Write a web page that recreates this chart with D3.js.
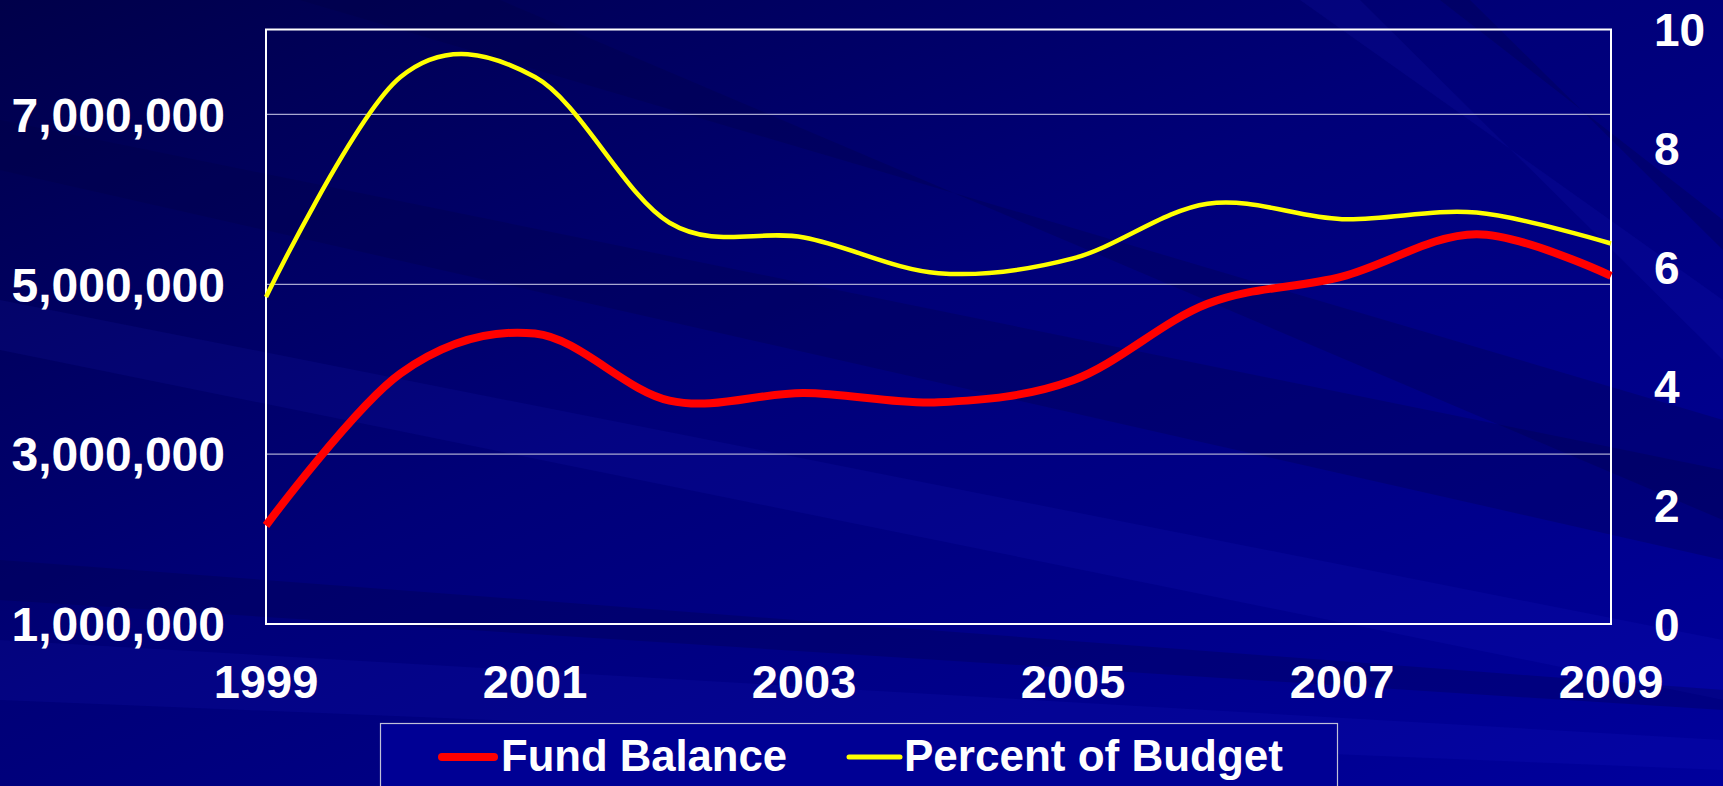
<!DOCTYPE html>
<html lang="en">
<head>
  <meta charset="UTF-8">
  <title>Fund Balance</title>
  <script src="https://d3js.org/d3.v7.min.js"></script>
  <style>
    html, body { margin: 0; padding: 0; background: #000080; overflow: hidden; }
    text { font-family: "Liberation Sans", Arial, sans-serif; font-weight: bold; fill: #fff; }
  </style>
</head>
<body>
  <svg id="svg" width="1723" height="786"></svg>
  <script>
    // data
    const years = [1999, 2000, 2001, 2002, 2003, 2004, 2005, 2006, 2007, 2008, 2009];
    const fundBalance = [2160000, 3950000, 4420000, 3630000, 3720000, 3610000, 3870000, 4770000, 5090000, 5590000, 5100000];
    const percentOfBudget = [5.5, 9.2, 9.2, 6.75, 6.5, 5.9, 6.15, 7.07, 6.81, 6.92, 6.4];
    const leftTicks = [1000000, 3000000, 5000000, 7000000];
    const rightTicks = [0, 2, 4, 6, 8, 10];
    const yearTicks = [1999, 2001, 2003, 2005, 2007, 2009];
    const seriesNames = ["Fund Balance", "Percent of Budget"];

    function drawChart() {
      const W = 1723, H = 786;
      const plotLeft = 266, plotRight = 1611, plotTop = 29.5, plotBottom = 624;

      const svg = d3.select("svg");
      const defs = svg.append("defs");

      // background
      const bg = defs.append("linearGradient").attr("id", "bg")
        .attr("x1", 0).attr("y1", 0).attr("x2", 1).attr("y2", 1);
      bg.append("stop").attr("offset", 0).attr("stop-color", "#00004a");
      bg.append("stop").attr("offset", 0.45).attr("stop-color", "#000078");
      bg.append("stop").attr("offset", 1).attr("stop-color", "#00009c");
      svg.append("rect").attr("width", W).attr("height", H).attr("fill", "url(#bg)");

      // diagonal streaks
      const streaks = [
        [[0, 120], [0, 170], [1723, 560], [1723, 470]],
        [[0, 300], [0, 350], [1723, 700], [1723, 640]],
        [[0, 560], [0, 600], [1723, 710], [1723, 690]],
        [[0, 640], [0, 700], [1723, 770], [1723, 740]],
        [[300, 0], [500, 0], [1723, 520], [1723, 420]],
        [[1300, 0], [1360, 0], [1723, 360], [1723, 300]],
        [[1440, 0], [1470, 0], [1723, 250], [1723, 220]]
      ];
      svg.append("g").selectAll("path").data(streaks).join("path")
        .attr("d", d => "M" + d.join("L") + "Z")
        .attr("fill", (d, i) => i % 2 ? "#3030ff" : "#000040")
        .attr("opacity", (d, i) => i % 2 ? 0.08 : 0.25);

      const x = d3.scaleLinear().domain([1999, 2009]).range([plotLeft, plotRight]);
      const yL = d3.scaleLinear().domain([1000000, 8000000]).range([plotBottom, plotTop]);
      const yR = d3.scaleLinear().domain([0, 10]).range([plotBottom, plotTop]);

      // gridlines
      svg.append("g").selectAll("line").data(leftTicks.slice(1)).join("line")
        .attr("x1", plotLeft).attr("x2", plotRight)
        .attr("y1", d => yL(d)).attr("y2", d => yL(d))
        .attr("stroke", "#a8a8d0").attr("stroke-width", 1.2);

      // plot border
      svg.append("rect")
        .attr("x", plotLeft).attr("y", plotTop)
        .attr("width", plotRight - plotLeft).attr("height", plotBottom - plotTop)
        .attr("fill", "none").attr("stroke", "#ffffff").attr("stroke-width", 2);

      // axes labels
      svg.append("g").selectAll("text").data(leftTicks).join("text")
        .attr("x", 225).attr("y", d => yL(d)).attr("dy", "0.36em")
        .attr("text-anchor", "end").attr("font-size", 48)
        .text(d => d3.format(",")(d));

      svg.append("g").selectAll("text").data(rightTicks).join("text")
        .attr("x", 1654).attr("y", d => yR(d)).attr("dy", "0.36em")
        .attr("text-anchor", "start").attr("font-size", 46)
        .text(d => d);

      svg.append("g").selectAll("text").data(yearTicks).join("text")
        .attr("x", d => x(d)).attr("y", 698)
        .attr("text-anchor", "middle").attr("font-size", 47)
        .text(d => d);

      // lines
      const curve = d3.curveCardinal.tension(0);
      const lineL = d3.line().x((d, i) => x(years[i])).y(d => yL(d)).curve(curve);
      const lineR = d3.line().x((d, i) => x(years[i])).y(d => yR(d)).curve(curve);

      svg.append("path").datum(percentOfBudget)
        .attr("d", lineR).attr("fill", "none")
        .attr("stroke", "#ffff00").attr("stroke-width", 4.5);

      svg.append("path").datum(fundBalance)
        .attr("d", lineL).attr("fill", "none")
        .attr("stroke", "#ff0000").attr("stroke-width", 8);

      // legend
      const legend = svg.append("g");
      legend.append("rect")
        .attr("x", 380.5).attr("y", 723.5).attr("width", 957).attr("height", 80)
        .attr("fill", "#000094").attr("stroke", "#c0c0d8").attr("stroke-width", 1.2);

      const legendItems = [
        { name: seriesNames[0], color: "#ff0000", w: 8, x0: 442, x1: 494, tx: 501, len: 286 },
        { name: seriesNames[1], color: "#ffff00", w: 5, x0: 849, x1: 900, tx: 904, len: 379 }
      ];
      const li = legend.selectAll("g").data(legendItems).join("g");
      li.append("line")
        .attr("x1", d => d.x0).attr("x2", d => d.x1)
        .attr("y1", 757).attr("y2", 757)
        .attr("stroke", d => d.color).attr("stroke-width", d => d.w)
        .attr("stroke-linecap", "round");
      li.append("text")
        .attr("x", d => d.tx).attr("y", 771)
        .attr("font-size", 45)
        .attr("textLength", d => d.len)
        .attr("lengthAdjust", "spacingAndGlyphs")
        .text(d => d.name);
    }

    drawChart();
  </script>
</body>
</html>
